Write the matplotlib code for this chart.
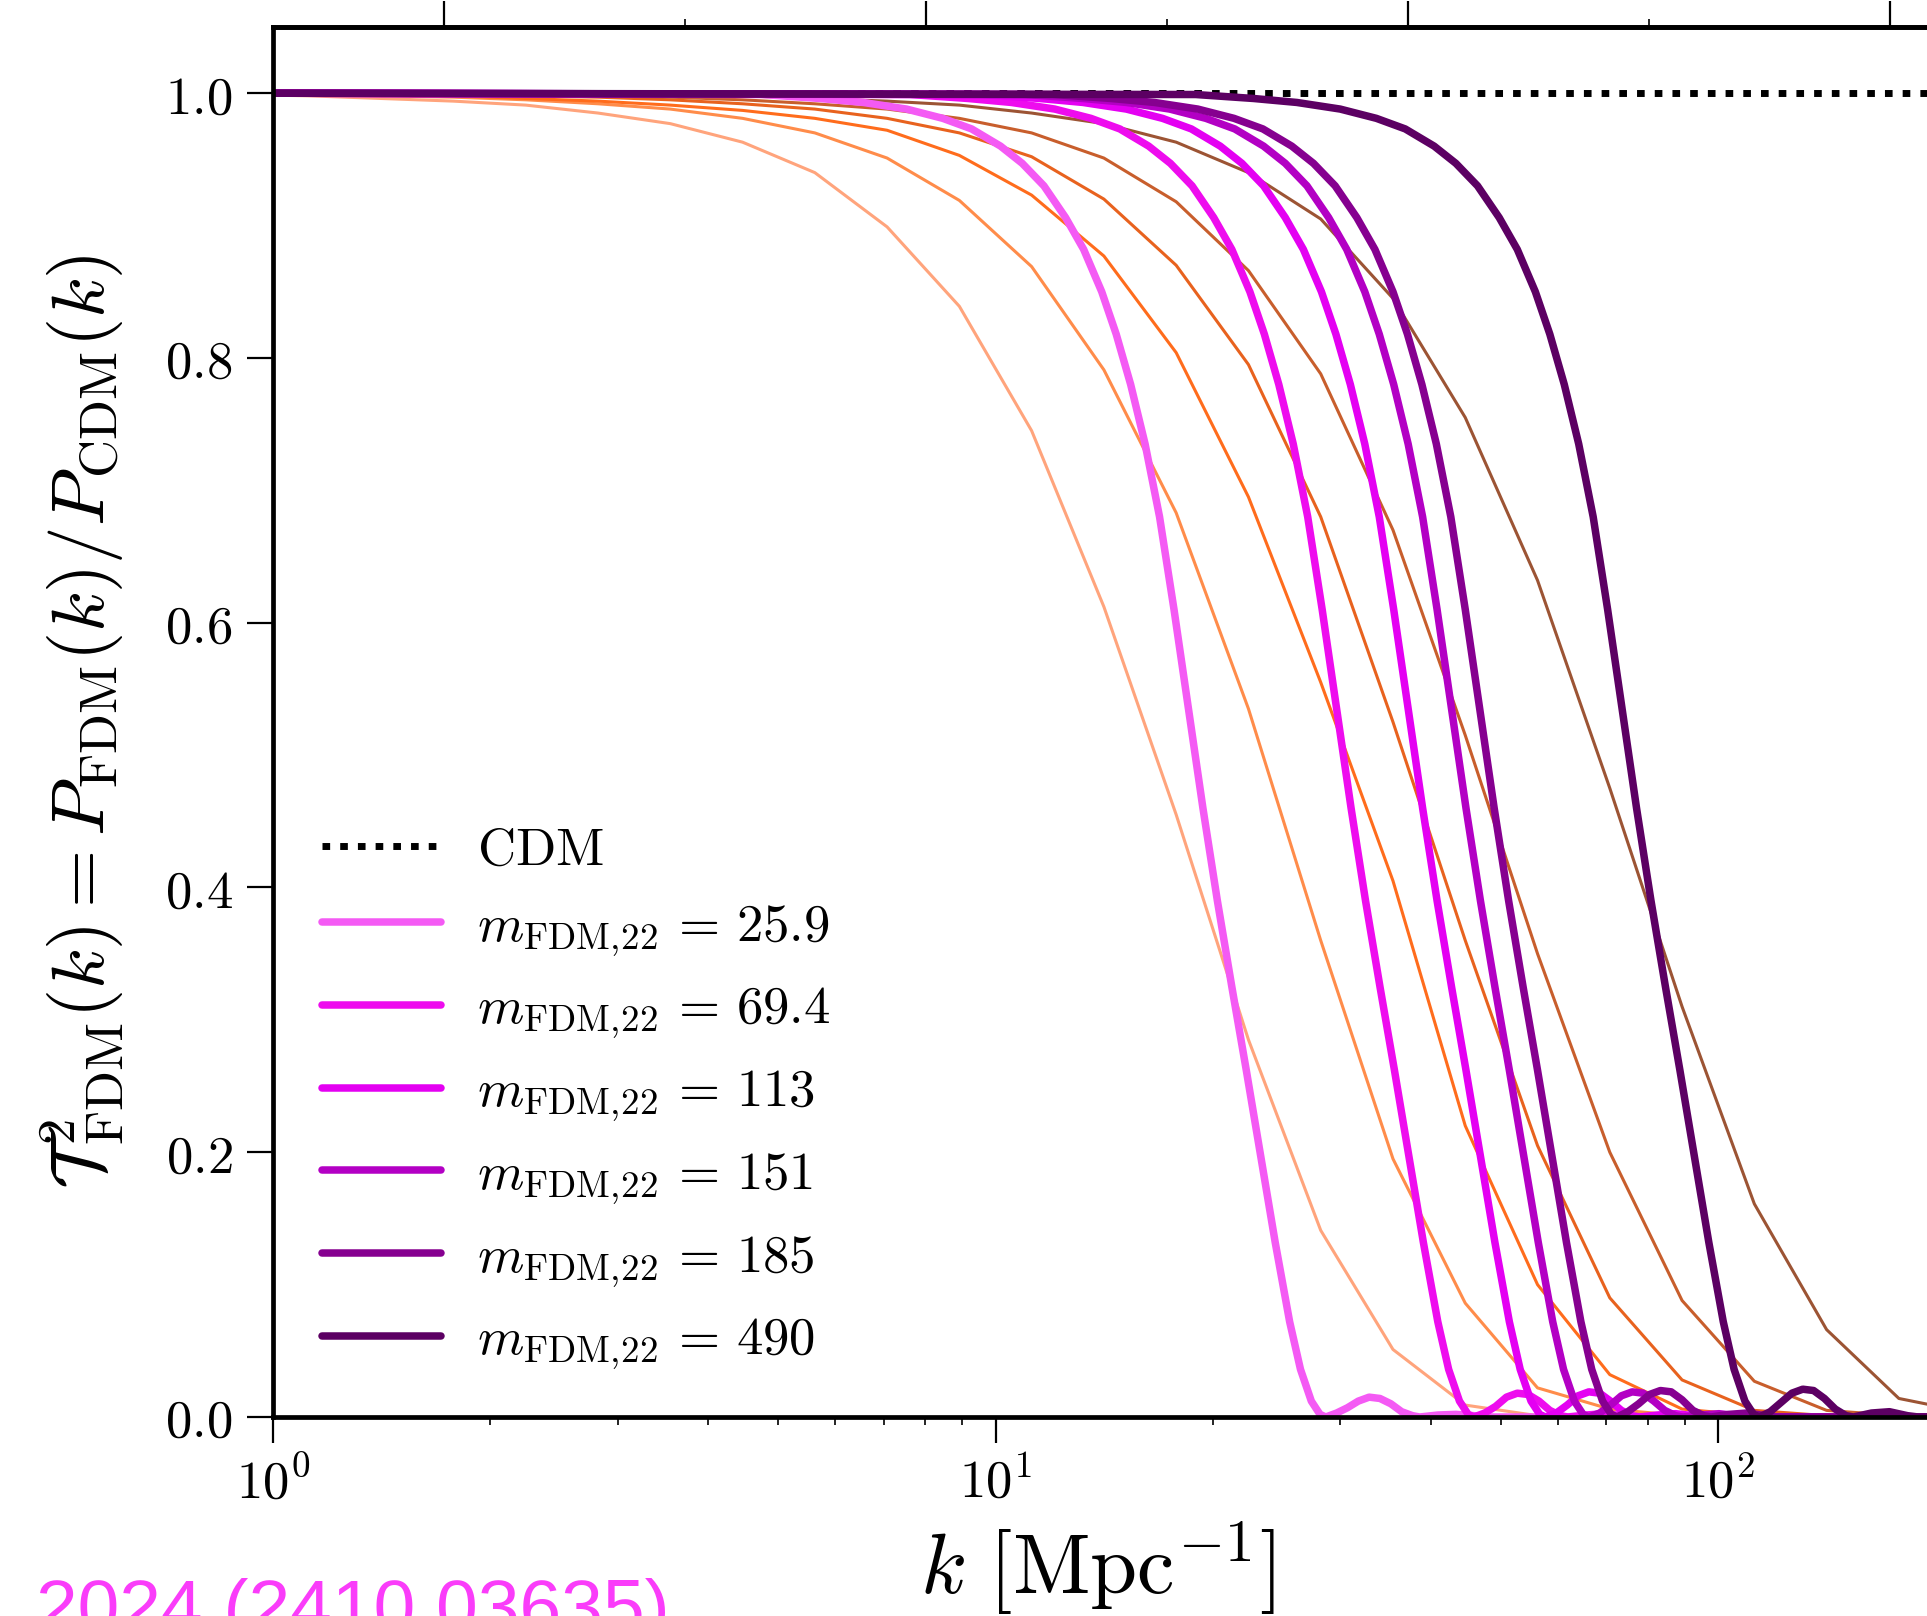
import numpy as np
import matplotlib
matplotlib.use("Agg")
import matplotlib.pyplot as plt
from matplotlib.ticker import FuncFormatter, FixedLocator, NullFormatter, LogLocator

plt.rcParams["mathtext.fontset"] = "cm"
plt.rcParams["font.family"] = ["DejaVu Serif"]

# ---------------- data: T^2(k) = P_FDM / P_CDM, k in Mpc^-1 (given as log10 k) ----------------
masses = ["25.9", "69.4", "113", "151", "185", "490"]
colors_fdm = ["#f45af4", "#ee0cee", "#e400f2", "#b300c4", "#860090", "#5c0063"]

log10k_m259 = [0.0, 0.677, 0.757, 0.817, 0.877, 0.927, 0.967, 1.007, 1.037, 1.067, 1.097, 1.122, 1.147, 1.167, 1.187, 1.207, 1.227, 1.247, 1.267, 1.287, 1.307, 1.327, 1.347, 1.367, 1.387, 1.407, 1.422, 1.437, 1.449, 1.457, 1.472, 1.487, 1.502, 1.517, 1.532, 1.547, 1.562, 1.577, 1.587, 1.612, 1.637, 1.662, 1.677, 2.5]
T2_m259 = [1.0, 0.999, 0.996, 0.993, 0.988, 0.981, 0.973, 0.960, 0.947, 0.930, 0.906, 0.882, 0.850, 0.818, 0.780, 0.735, 0.680, 0.610, 0.535, 0.46, 0.39, 0.325, 0.262, 0.197, 0.132, 0.072, 0.036, 0.012, 0.002, 0.0, 0.003, 0.007, 0.012, 0.015, 0.014, 0.010, 0.004, 0.001, 0.0, 0.0015, 0.002, 0.001, 0.0, 0.0]

log10k_m694 = [0.0, 0.882, 0.962, 1.022, 1.082, 1.132, 1.172, 1.212, 1.242, 1.272, 1.302, 1.327, 1.352, 1.372, 1.392, 1.412, 1.432, 1.452, 1.472, 1.492, 1.512, 1.532, 1.552, 1.572, 1.592, 1.612, 1.627, 1.642, 1.654, 1.662, 1.677, 1.692, 1.707, 1.722, 1.737, 1.752, 1.767, 1.782, 1.792, 1.817, 1.842, 1.867, 1.882, 2.5]
T2_m694 = [1.0, 0.999, 0.996, 0.993, 0.988, 0.981, 0.973, 0.960, 0.947, 0.930, 0.906, 0.882, 0.850, 0.818, 0.780, 0.735, 0.680, 0.610, 0.535, 0.46, 0.39, 0.325, 0.262, 0.197, 0.132, 0.072, 0.036, 0.012, 0.002, 0.0, 0.003, 0.008, 0.015, 0.018, 0.017, 0.012, 0.005, 0.001, 0.0, 0.0015, 0.0025, 0.001, 0.0, 0.0]

log10k_m113 = [0.0, 0.981, 1.061, 1.121, 1.181, 1.231, 1.271, 1.311, 1.341, 1.371, 1.401, 1.426, 1.451, 1.471, 1.491, 1.511, 1.531, 1.551, 1.571, 1.591, 1.611, 1.631, 1.651, 1.671, 1.691, 1.711, 1.726, 1.741, 1.753, 1.761, 1.776, 1.791, 1.806, 1.821, 1.836, 1.851, 1.866, 1.881, 1.891, 1.916, 1.941, 1.966, 1.981, 2.5]
T2_m113 = [1.0, 0.999, 0.996, 0.993, 0.988, 0.981, 0.973, 0.960, 0.947, 0.930, 0.906, 0.882, 0.850, 0.818, 0.780, 0.735, 0.680, 0.610, 0.535, 0.46, 0.39, 0.325, 0.262, 0.197, 0.132, 0.072, 0.036, 0.012, 0.002, 0.0, 0.003, 0.009, 0.016, 0.019, 0.018, 0.012, 0.005, 0.001, 0.0, 0.0015, 0.0025, 0.001, 0.0, 0.0]

log10k_m151 = [0.0, 1.041, 1.121, 1.181, 1.241, 1.291, 1.331, 1.371, 1.401, 1.431, 1.461, 1.486, 1.511, 1.531, 1.551, 1.571, 1.591, 1.611, 1.631, 1.651, 1.671, 1.691, 1.711, 1.731, 1.751, 1.771, 1.786, 1.801, 1.813, 1.821, 1.836, 1.851, 1.866, 1.881, 1.896, 1.911, 1.926, 1.941, 1.951, 1.976, 2.001, 2.026, 2.041, 2.5]
T2_m151 = [1.0, 0.999, 0.996, 0.993, 0.988, 0.981, 0.973, 0.960, 0.947, 0.930, 0.906, 0.882, 0.850, 0.818, 0.780, 0.735, 0.680, 0.610, 0.535, 0.46, 0.39, 0.325, 0.262, 0.197, 0.132, 0.072, 0.036, 0.012, 0.002, 0.0, 0.003, 0.009, 0.016, 0.019, 0.018, 0.012, 0.005, 0.001, 0.0, 0.0015, 0.0025, 0.001, 0.0, 0.0]

log10k_m185 = [0.0, 1.080, 1.160, 1.220, 1.280, 1.330, 1.370, 1.410, 1.440, 1.470, 1.500, 1.525, 1.550, 1.570, 1.590, 1.610, 1.630, 1.650, 1.670, 1.690, 1.710, 1.730, 1.750, 1.770, 1.790, 1.810, 1.825, 1.840, 1.852, 1.860, 1.875, 1.890, 1.905, 1.920, 1.935, 1.950, 1.965, 1.980, 1.990, 2.015, 2.040, 2.065, 2.080, 2.5]
T2_m185 = [1.0, 0.999, 0.996, 0.993, 0.988, 0.981, 0.973, 0.960, 0.947, 0.930, 0.906, 0.882, 0.850, 0.818, 0.780, 0.735, 0.680, 0.610, 0.535, 0.46, 0.39, 0.325, 0.262, 0.197, 0.132, 0.072, 0.036, 0.012, 0.002, 0.0, 0.004, 0.010, 0.017, 0.020, 0.019, 0.013, 0.005, 0.001, 0.0, 0.002, 0.003, 0.001, 0.0, 0.0]

log10k_m490 = [0.0, 1.277, 1.357, 1.417, 1.477, 1.527, 1.567, 1.607, 1.637, 1.667, 1.697, 1.722, 1.747, 1.767, 1.787, 1.807, 1.827, 1.847, 1.867, 1.887, 1.907, 1.927, 1.947, 1.967, 1.987, 2.007, 2.022, 2.037, 2.049, 2.057, 2.072, 2.087, 2.102, 2.117, 2.132, 2.147, 2.162, 2.177, 2.187, 2.212, 2.237, 2.262, 2.277, 2.5]
T2_m490 = [1.0, 0.999, 0.996, 0.993, 0.988, 0.981, 0.973, 0.960, 0.947, 0.930, 0.906, 0.882, 0.850, 0.818, 0.780, 0.735, 0.680, 0.610, 0.535, 0.46, 0.39, 0.325, 0.262, 0.197, 0.132, 0.072, 0.036, 0.012, 0.002, 0.0, 0.004, 0.011, 0.018, 0.021, 0.020, 0.014, 0.006, 0.001, 0.0, 0.003, 0.004, 0.001, 0.0, 0.0]

# coarse-grid comparison curves (thin lines), common log10 k grid
log10k_thin = [-0.05, 0.05, 0.15, 0.25, 0.35, 0.45, 0.55, 0.65, 0.75, 0.85, 0.95, 1.05, 1.15,
               1.25, 1.35, 1.45, 1.55, 1.65, 1.75, 1.85, 1.95, 2.05, 2.15, 2.25, 2.35, 2.45]
T2_thin_a = [0.999, 0.998, 0.996, 0.994, 0.991, 0.985, 0.977, 0.963, 0.940, 0.899, 0.839, 0.745, 0.612, 0.455, 0.285, 0.141, 0.051, 0.009, 0.001, 0, 0, 0, 0, 0, 0, 0]
T2_thin_b = [0.999, 0.999, 0.998, 0.997, 0.995, 0.992, 0.988, 0.981, 0.970, 0.951, 0.919, 0.869, 0.791, 0.683, 0.535, 0.360, 0.195, 0.086, 0.022, 0.006, 0.001, 0, 0, 0, 0, 0]
T2_thin_c = [0.999, 0.999, 0.999, 0.998, 0.996, 0.994, 0.991, 0.987, 0.981, 0.972, 0.953, 0.923, 0.877, 0.804, 0.695, 0.555, 0.405, 0.220, 0.100, 0.032, 0.006, 0.001, 0, 0, 0, 0]
T2_thin_d = [0.999, 0.999, 0.999, 0.999, 0.998, 0.997, 0.995, 0.992, 0.988, 0.981, 0.970, 0.952, 0.920, 0.870, 0.795, 0.680, 0.525, 0.360, 0.205, 0.090, 0.028, 0.005, 0.001, 0, 0, 0]
T2_thin_e = [0.999, 0.999, 0.999, 0.999, 0.999, 0.998, 0.997, 0.995, 0.992, 0.988, 0.981, 0.970, 0.951, 0.918, 0.866, 0.788, 0.670, 0.515, 0.350, 0.200, 0.088, 0.027, 0.005, 0.001, 0, 0]
T2_thin_f = [0.999, 0.999, 0.999, 0.999, 0.999, 0.999, 0.998, 0.998, 0.996, 0.994, 0.991, 0.985, 0.977, 0.963, 0.940, 0.905, 0.845, 0.755, 0.632, 0.475, 0.310, 0.161, 0.066, 0.014, 0.003, 0.0]
colors_thin = ["#ffa47c", "#ff8c4a", "#ff6c1c", "#e8621e", "#c85e2c", "#9c5434"]

# ---------------- figure ----------------
W, H = 1927, 1616
fig = plt.figure(figsize=(W / 100, H / 100), dpi=100)
ax_left, ax_bottom = 272.8 / W, (H - 1417) / H
ax_h = (1417 - 27) / H
decade_px = 722.7
kmax_log = 2.5
ax_w_px = kmax_log * decade_px
ax = fig.add_axes([ax_left, ax_bottom, ax_w_px / W, ax_h])

ax.set_xscale("log")
ax.set_xlim(1.0, 10 ** kmax_log)
ax.set_ylim(0.0, 1.05)

# CDM reference
ax.plot([1.0, 10 ** kmax_log], [1.0, 1.0], color="black", lw=5.0,
        linestyle=(0, (1.1, 1.45)), dash_capstyle="butt", zorder=1,
        label=r"$\mathrm{CDM}$")

thin_sets = [T2_thin_a, T2_thin_b, T2_thin_c, T2_thin_d, T2_thin_e, T2_thin_f]
k_thin = 10 ** np.array(log10k_thin)
for vals, c in zip(thin_sets, colors_thin):
    ax.plot(k_thin, vals, color=c, lw=2.2, zorder=2)

fdm_sets = [(log10k_m259, T2_m259), (log10k_m694, T2_m694), (log10k_m113, T2_m113),
            (log10k_m151, T2_m151), (log10k_m185, T2_m185), (log10k_m490, T2_m490)]
for (lk, vals), c, m in zip(fdm_sets, colors_fdm, masses):
    ax.plot(10 ** np.array(lk), vals, color=c, lw=5.4, zorder=3,
            solid_joinstyle="round", solid_capstyle="round",
            label=r"$m_{\rm FDM,\!22}\,=\,%s$" % m)

# spines / ticks
for side in ["left", "bottom", "top", "right"]:
    ax.spines[side].set_linewidth(3.4)
    ax.spines[side].set_zorder(5)

ax.yaxis.set_major_locator(FixedLocator([0.0, 0.2, 0.4, 0.6, 0.8, 1.0]))
ax.yaxis.set_major_formatter(FuncFormatter(lambda v, p: r"$%.1f$" % v))
ax.xaxis.set_major_locator(LogLocator(base=10))
ax.xaxis.set_minor_locator(LogLocator(base=10, subs=np.arange(2, 10)))
ax.xaxis.set_minor_formatter(NullFormatter())
ax.xaxis.set_major_formatter(FuncFormatter(lambda v, p: r"$10^{%d}$" % round(np.log10(v))))

ax.tick_params(axis="both", which="major", direction="out", length=19, width=1.6,
               labelsize=38, pad=10, top=False, right=False)
ax.tick_params(axis="x", which="minor", direction="out", length=5.5, width=1.2, top=False)

# halo-mass scale along the top edge
rho_m = 3.96e10


def k_to_mass(k):
    k = np.asarray(k, dtype=float)
    return 4.0 * np.pi / 3.0 * rho_m * (np.pi / np.clip(k, 1e-6, None)) ** 3


def mass_to_k(m):
    m = np.asarray(m, dtype=float)
    return np.pi * (4.0 * np.pi * rho_m / (3.0 * np.clip(m, 1e-30, None))) ** (1.0 / 3.0)


secax = ax.secondary_xaxis("top", functions=(k_to_mass, mass_to_k))
secax.xaxis.set_major_locator(FixedLocator([1e6, 1e8, 1e10, 1e12]))
secax.xaxis.set_minor_locator(FixedLocator([1e7, 1e9, 1e11]))
secax.xaxis.set_major_formatter(NullFormatter())
secax.xaxis.set_minor_formatter(NullFormatter())
secax.tick_params(axis="x", which="major", direction="out", length=19, width=1.6)
secax.tick_params(axis="x", which="minor", direction="out", length=6, width=1.2)
secax.spines["top"].set_linewidth(3.4)

ax.set_ylabel(r"$\mathcal{T}^2_{\rm FDM}(k) = P_{\rm FDM}(k)/P_{\rm CDM}(k)$",
              fontsize=54, labelpad=28)
ax.set_xlabel(r"$k\ [\mathrm{Mpc}^{-1}]$", fontsize=61)
ax.xaxis.set_label_coords((1097.5 - 272.8) / ax_w_px, -0.0734)

leg = ax.legend(loc="lower left", bbox_to_anchor=(0.0068, 0.0055), frameon=False,
                fontsize=38, handlelength=2.25, handletextpad=0.69,
                labelspacing=0.47, borderaxespad=0.3)

fig.text(36 / W, -0.010, "2024 (2410.03635)", color="#fa3cfa", fontsize=54,
         family=["Liberation Sans", "DejaVu Sans"], ha="left", va="baseline")

fig.savefig("out.png", dpi=100)
